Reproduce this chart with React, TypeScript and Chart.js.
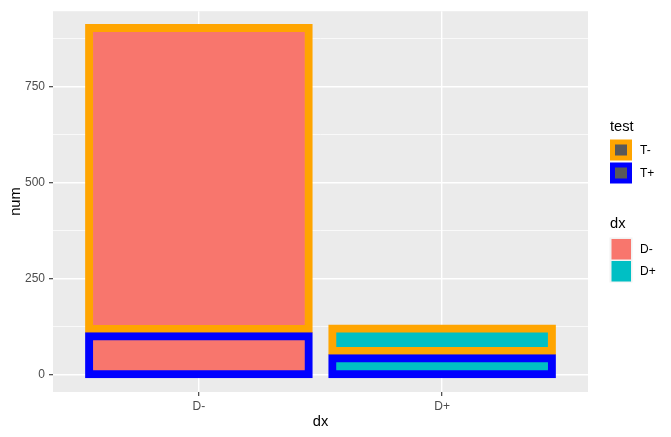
import React, { useEffect, useRef } from "react";
import { Chart, registerables } from "chart.js";

Chart.register(...registerables);

const CATEGORIES = ["D-", "D+"];
const T_PLUS = [109, 51.5];
const T_MINUS = [802.5, 78];
const Y_TICKS = [0, 250, 500, 750];
const Y_MINOR = [125, 375, 625, 875];
const DX_COLORS = ["#F8766D", "#00BFC4"];
const TEST_LEVELS = ["T-", "T+"];
const TEST_COLORS = ["#FFA500", "#0000FF"];

// bottom border overhang below zero (ggplot draws borders centred on the bar edge)
const BASE_OVERHANG = -8.8;

const FONT = '"Liberation Sans", Arial, sans-serif';

const panelBg = {
  id: "panelBg",
  beforeDraw(chart: any) {
    const { ctx, chartArea } = chart;
    ctx.save();
    ctx.fillStyle = "#EBEBEB";
    ctx.fillRect(chartArea.left, chartArea.top, chartArea.right - chartArea.left, chartArea.bottom - chartArea.top);
    ctx.restore();
  },
};

const ggLegend = {
  id: "ggLegend",
  afterDraw(chart: any) {
    const ctx = chart.ctx;
    ctx.save();
    ctx.fillStyle = "#000";
    ctx.textAlign = "left";
    ctx.textBaseline = "alphabetic";
    ctx.font = `14.67px ${FONT}`;
    ctx.fillText("test", 610, 131);
    ctx.fillText("dx", 610, 228);
    ctx.font = `12px ${FONT}`;
    ctx.textBaseline = "middle";
    TEST_LEVELS.forEach((lab, i) => {
      const y0 = 139.5 + i * 23;
      ctx.fillStyle = TEST_COLORS[i];
      ctx.fillRect(610, y0, 22, 21);
      ctx.fillStyle = "#595959";
      ctx.fillRect(615, y0 + 5, 12, 11);
      ctx.fillStyle = "#000";
      ctx.fillText(lab, 640, y0 + 11);
    });
    ctx.fillStyle = "#F2F2F2";
    ctx.fillRect(609.5, 237.5, 23, 45);
    CATEGORIES.forEach((lab, i) => {
      const y0 = 239 + i * 22;
      ctx.fillStyle = DX_COLORS[i];
      ctx.fillRect(611.5, y0, 19.5, 20.5);
      ctx.fillStyle = "#000";
      ctx.fillText(lab, 640, y0 + 11);
    });
    ctx.restore();
  },
};

export default function App() {
  const ref = useRef<HTMLCanvasElement>(null);
  useEffect(() => {
    if (!ref.current) return;
    const makeData = (vals: number[]) => CATEGORIES.map((_, i) => ({ x: i + 1, y: vals[i] }));
    const chart = new Chart(ref.current, {
      type: "bar",
      data: {
        datasets: [
          {
            label: "T+",
            data: makeData(T_PLUS),
            base: BASE_OVERHANG,
            backgroundColor: DX_COLORS,
            borderColor: TEST_COLORS[1],
            borderWidth: 8,
            borderSkipped: false,
            barThickness: 227,
          },
          {
            label: "T-",
            data: makeData(T_MINUS),
            backgroundColor: DX_COLORS,
            borderColor: TEST_COLORS[0],
            borderWidth: 8,
            borderSkipped: false,
            barThickness: 227,
          },
        ],
      } as any,
      options: {
        animation: false,
        responsive: false,
        maintainAspectRatio: false,
        layout: { padding: { left: 0, top: 7, right: 83, bottom: 0 } },
        plugins: { legend: { display: false }, tooltip: { enabled: false } },
        scales: {
          x: {
            type: "linear",
            min: 0.4,
            max: 2.6,
            offset: false,
            stacked: true,
            afterBuildTicks: (axis: any) => {
              axis.ticks = CATEGORIES.map((_, i) => ({ value: i + 1 }));
            },
            afterFit: (scale: any) => {
              scale.height = 45;
            },
            ticks: {
              autoSkip: false,
              maxRotation: 0,
              padding: 3,
              color: "#4D4D4D",
              font: { family: FONT, size: 12 },
              callback: (v: any) => CATEGORIES[Math.round(Number(v)) - 1] ?? "",
            },
            grid: {
              offset: false,
              color: "#FFFFFF",
              lineWidth: 1.4,
              tickColor: "#333333",
              tickLength: 4,
              tickWidth: 1.1,
            },
            border: { display: false },
            title: {
              display: true,
              text: "dx",
              color: "#000",
              font: { family: FONT, size: 14.67 },
              padding: { top: 0, bottom: 6 },
            },
          },
          y: {
            type: "linear",
            min: -45.6,
            max: 945.7,
            stacked: true,
            afterBuildTicks: (axis: any) => {
              axis.ticks = [...Y_TICKS, ...Y_MINOR].sort((a, b) => a - b).map((v) => ({ value: v }));
            },
            afterFit: (scale: any) => {
              scale.width = 53;
            },
            ticks: {
              autoSkip: false,
              padding: 4,
              color: "#4D4D4D",
              font: { family: FONT, size: 12 },
              callback: (v: any) => (Y_TICKS.includes(Number(v)) ? String(v) : ""),
            },
            grid: {
              color: "#FFFFFF",
              lineWidth: (c: any) => (Y_TICKS.includes(c.tick?.value) ? 1.4 : 0.7),
              tickColor: (c: any) => (Y_TICKS.includes(c.tick?.value) ? "#333333" : "rgba(0,0,0,0)"),
              tickLength: 4,
              tickWidth: 1.1,
            },
            border: { display: false },
            title: {
              display: true,
              text: "num",
              color: "#000",
              font: { family: FONT, size: 14.67 },
              padding: { top: 7, bottom: 0 },
            },
          },
        },
      } as any,
      plugins: [panelBg, ggLegend],
    });
    return () => chart.destroy();
  }, []);
  return (
    <div style={{ position: "absolute", left: 0, top: 0, width: 671, height: 437 }}>
      <canvas ref={ref} width={671} height={437} />
    </div>
  );
}
